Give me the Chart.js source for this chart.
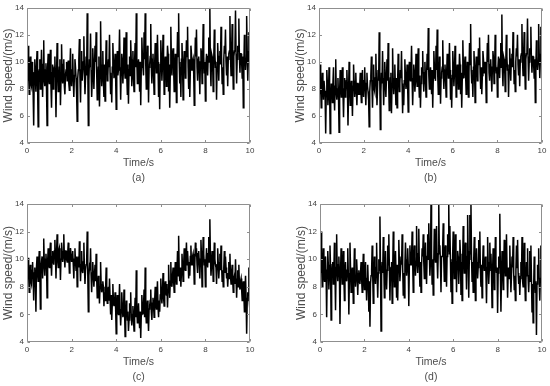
<!DOCTYPE html>
<html>
<head>
<meta charset="utf-8">
<script src="https://cdn.jsdelivr.net/npm/chart.js@4.4.1/dist/chart.umd.min.js"></script>
<style>
html,body{margin:0;padding:0;background:#fff;}
#wrap{position:relative;width:550px;height:386px;overflow:hidden;}
canvas{position:absolute;}
</style>
</head>
<body>
<div id="wrap">
<canvas id="ca" width="275" height="193" style="left:0;top:0;width:275px;height:193px"></canvas>
<canvas id="cb" width="275" height="193" style="left:275px;top:0;width:275px;height:193px"></canvas>
<canvas id="cc" width="275" height="193" style="left:0;top:193px;width:275px;height:193px"></canvas>
<canvas id="cd" width="275" height="193" style="left:275px;top:193px;width:275px;height:193px"></canvas>
</div>
<script>
// ---- data ----
const dt = 0.025; // sampling step, s
const xTicks = [0, 2, 4, 6, 8, 10];
const yTicks = [4, 6, 8, 10, 12, 14];
const panelLabels = ['(a)', '(b)', '(c)', '(d)'];
const xTitle = 'Time/s';
const yTitle = 'Wind speed/(m/s)';

const speedA = [
 9.8, 8.6, 11.2, 9.0, 7.6, 9.8, 10.4, 8.4, 8.2, 10.0, 9.6, 7.8, 5.3, 9.2, 10.2, 8.8, 7.8, 9.6, 10.8, 8.2, 5.2, 9.0, 9.4, 10.2, 8.0, 8.8, 10.9, 9.4, 7.4, 9.8, 11.6, 8.6, 8.2, 9.4, 9.9, 8.0, 5.3, 9.6, 10.6, 8.8,
 8.4, 9.6, 10.9, 8.2, 6.6, 9.2, 9.8, 8.0, 8.8, 9.6, 10.4, 8.6, 5.9, 9.0, 11.4, 9.4, 7.8, 8.8, 9.6, 10.2, 6.8, 8.6, 11.3, 9.2, 8.4, 9.8, 10.2, 8.2, 7.6, 9.0, 9.4, 10.0, 8.6, 9.2, 10.1, 8.4, 7.9, 9.6, 11.0, 8.8,
 8.2, 9.4, 10.6, 8.6, 7.4, 9.0, 10.2, 9.6, 8.8, 7.6, 5.6, 8.8, 9.4, 10.2, 11.7, 8.8, 7.0, 9.4, 10.8, 8.6, 8.6, 10.0, 11.9, 9.2, 7.6, 8.8, 10.4, 9.0, 13.6, 9.8, 5.3, 8.6, 10.2, 9.6, 12.1, 9.4, 7.4, 8.6, 11.0, 9.8,
 8.0, 9.6, 11.2, 10.0, 12.2, 9.2, 7.2, 8.8, 9.6, 10.4, 6.7, 9.0, 13.0, 9.8, 8.2, 9.4, 10.8, 8.6, 7.4, 9.8, 7.1, 9.2, 11.6, 10.2, 8.6, 9.0, 10.2, 9.6, 12.0, 9.2, 7.6, 8.8, 7.0, 9.6, 11.4, 10.0, 8.8, 9.4, 10.6, 8.8,
 6.5, 9.4, 10.8, 9.0, 9.4, 10.2, 12.4, 9.6, 7.2, 9.2, 10.6, 10.0, 8.4, 9.6, 11.8, 9.4, 8.8, 10.4, 12.2, 9.0, 7.6, 9.8, 6.9, 9.4, 10.4, 9.0, 11.6, 10.2, 8.2, 9.6, 10.8, 8.8, 7.8, 10.0, 11.4, 9.6, 13.6, 10.2, 8.4, 9.4,
 10.2, 9.4, 7.8, 10.0, 6.8, 9.6, 11.8, 10.4, 9.6, 9.0, 12.2, 10.2, 13.6, 9.8, 8.0, 9.4, 11.2, 10.6, 7.0, 9.6, 9.8, 10.4, 12.8, 9.6, 8.4, 10.2, 10.6, 9.0, 7.6, 9.8, 11.4, 10.4, 9.2, 9.8, 12.0, 10.0, 7.4, 9.2, 6.5, 9.8,
 11.6, 10.2, 8.6, 9.8, 12.0, 10.4, 7.6, 9.6, 10.4, 10.0, 8.2, 9.4, 11.2, 10.6, 7.8, 9.8, 6.6, 9.2, 12.6, 10.2, 9.0, 10.6, 11.0, 9.6, 7.8, 9.4, 10.6, 10.2, 7.0, 9.8, 12.2, 10.4, 13.6, 10.0, 8.4, 9.6, 7.4, 10.2, 11.4, 9.8,
 7.2, 9.6, 10.8, 10.2, 8.8, 9.8, 11.6, 10.4, 12.6, 9.6, 8.0, 10.2, 7.4, 9.4, 11.2, 10.6, 9.4, 10.0, 10.2, 9.2, 6.8, 9.8, 11.8, 10.4, 12.4, 9.6, 8.6, 10.2, 10.4, 9.4, 7.6, 10.0, 11.0, 10.6, 8.4, 9.8, 12.8, 10.4, 9.2, 10.0,
 7.1, 9.8, 10.6, 10.2, 9.0, 10.4, 11.8, 10.0, 14.0, 9.6, 8.2, 10.6, 10.4, 9.8, 7.8, 10.2, 12.4, 10.6, 9.6, 10.0, 7.2, 9.6, 11.4, 10.2, 8.6, 10.4, 10.8, 9.8, 12.6, 10.4, 8.4, 9.6, 7.6, 10.2, 11.2, 10.6, 12.4, 10.0, 9.0, 10.4,
 8.2, 10.2, 10.6, 10.8, 13.4, 10.4, 9.0, 10.6, 12.8, 10.2, 8.0, 10.4, 10.8, 11.0, 13.8, 10.6, 8.4, 10.2, 11.2, 10.8, 13.2, 10.4, 9.2, 10.6, 10.6, 10.0, 8.8, 10.4, 6.6, 9.8, 12.0, 10.6, 9.4, 10.2, 13.4, 10.8, 8.6, 10.4, 12.2, 10.6, 10.0
];
const speedB = [
 8.6, 7.6, 9.8, 8.2, 6.6, 7.8, 9.2, 8.0, 7.2, 8.6, 8.6, 7.4, 4.7, 7.8, 9.4, 8.4, 6.8, 7.6, 9.6, 8.0, 4.7, 7.2, 8.4, 8.0, 7.0, 8.4, 9.6, 7.6, 6.4, 8.2, 10.2, 7.8, 7.2, 8.0, 8.8, 7.4, 4.8, 7.8, 9.4, 8.2,
 7.4, 8.4, 9.6, 7.8, 5.9, 8.0, 8.8, 7.4, 7.8, 8.6, 9.4, 8.0, 5.3, 7.6, 10.0, 8.4, 6.8, 8.0, 8.6, 7.6, 6.0, 8.2, 9.8, 8.6, 7.4, 8.0, 9.2, 7.8, 6.8, 8.4, 8.4, 7.6, 7.6, 8.2, 9.2, 8.0, 7.0, 8.4, 9.4, 8.0,
 7.4, 8.6, 9.6, 8.0, 6.8, 8.4, 9.2, 8.2, 7.8, 7.2, 5.2, 7.8, 8.6, 9.0, 10.4, 8.2, 6.6, 8.6, 9.8, 8.0, 7.8, 8.8, 10.6, 8.4, 6.8, 8.0, 9.4, 8.6, 12.2, 8.8, 5.0, 7.8, 9.2, 8.4, 10.8, 8.8, 6.8, 8.2, 10.0, 8.6,
 7.4, 8.8, 10.2, 8.6, 11.4, 8.4, 6.4, 8.0, 8.8, 9.2, 6.2, 8.4, 11.0, 8.8, 7.6, 8.6, 9.8, 8.2, 6.8, 8.8, 6.6, 8.4, 10.6, 9.0, 7.8, 8.4, 9.4, 8.8, 10.8, 8.4, 6.2, 8.2, 6.8, 8.6, 10.2, 9.0, 8.0, 8.6, 9.8, 8.2,
 6.3, 8.6, 10.0, 8.8, 8.6, 9.2, 11.2, 8.8, 6.8, 8.4, 9.8, 9.2, 7.8, 8.6, 10.6, 9.0, 8.2, 9.4, 11.0, 8.6, 7.4, 9.0, 6.6, 8.4, 9.6, 9.2, 10.8, 8.8, 7.8, 9.2, 10.0, 8.6, 7.4, 9.0, 10.6, 9.4, 12.5, 9.0, 8.0, 8.8,
 9.6, 8.8, 7.6, 9.4, 6.6, 8.8, 10.8, 9.6, 9.0, 8.6, 11.2, 9.4, 12.4, 9.0, 7.6, 8.8, 10.4, 9.6, 6.9, 8.8, 9.2, 9.6, 11.6, 9.2, 8.0, 9.4, 9.8, 8.8, 7.4, 9.2, 10.6, 9.6, 8.8, 9.2, 11.4, 9.4, 7.2, 8.8, 6.6, 9.0,
 10.8, 9.6, 8.2, 9.2, 11.2, 9.8, 7.4, 9.0, 9.8, 9.4, 8.0, 8.8, 10.6, 9.8, 7.6, 9.2, 6.6, 8.8, 11.6, 9.6, 8.8, 9.8, 10.4, 9.0, 7.6, 8.8, 10.0, 9.6, 7.4, 9.2, 11.4, 9.8, 12.8, 9.4, 8.4, 9.0, 7.4, 9.6, 10.8, 9.4,
 7.0, 9.2, 10.4, 9.8, 8.6, 9.4, 11.0, 9.8, 11.8, 9.2, 8.0, 9.6, 7.6, 9.0, 10.8, 10.2, 9.2, 9.6, 10.0, 9.0, 7.0, 9.4, 11.4, 10.0, 12.0, 9.2, 8.6, 9.8, 10.2, 9.0, 7.8, 9.6, 10.8, 10.2, 8.4, 9.4, 12.0, 9.8, 9.2, 9.6,
 7.4, 9.6, 10.4, 10.0, 8.8, 10.2, 11.4, 9.6, 13.5, 9.4, 8.2, 10.4, 10.2, 9.6, 7.8, 9.8, 12.0, 10.4, 9.4, 9.8, 7.4, 9.4, 11.0, 10.0, 8.6, 10.2, 10.6, 9.6, 12.2, 10.2, 8.4, 9.4, 7.8, 10.0, 11.0, 10.4, 12.0, 9.8, 9.0, 10.2,
 8.2, 10.0, 10.4, 10.6, 12.8, 10.2, 9.0, 10.4, 12.2, 10.0, 8.0, 10.2, 10.6, 10.8, 13.2, 10.4, 8.6, 10.0, 11.0, 10.6, 12.6, 10.2, 9.2, 10.4, 10.4, 9.8, 8.8, 10.2, 7.0, 9.6, 11.6, 10.4, 9.4, 10.0, 12.8, 10.6, 8.8, 10.2, 12.6, 10.4, 10.2
];
const speedC = [
 9.2, 8.6, 10.1, 8.8, 7.6, 9.0, 9.6, 8.4, 8.2, 9.2, 9.8, 8.8, 7.0, 9.0, 9.4, 8.6, 6.2, 9.4, 10.2, 9.0, 8.4, 9.6, 10.6, 9.2, 6.4, 9.4, 9.8, 10.2, 8.6, 9.6, 11.5, 9.8, 8.8, 10.0, 10.4, 9.6, 7.2, 9.8, 10.8, 9.6,
 9.4, 10.4, 11.2, 10.0, 8.8, 10.2, 10.6, 9.8, 9.6, 10.6, 11.4, 10.2, 8.6, 10.4, 11.8, 10.0, 9.4, 10.6, 10.8, 10.2, 8.5, 10.0, 11.2, 10.6, 9.8, 10.4, 11.8, 10.2, 9.4, 10.6, 10.6, 10.0, 9.8, 10.4, 11.2, 10.2, 9.0, 10.0, 10.8, 10.4,
 9.8, 10.2, 10.6, 9.6, 8.6, 10.0, 10.8, 9.8, 9.2, 10.2, 8.0, 9.6, 10.2, 9.4, 11.3, 9.8, 8.4, 9.6, 10.6, 9.2, 9.0, 9.8, 11.2, 9.4, 8.2, 9.2, 9.6, 9.8, 12.0, 9.0, 6.2, 8.8, 9.4, 9.2, 10.8, 8.8, 7.6, 9.0, 9.8, 8.8,
 8.0, 8.8, 9.6, 8.4, 10.4, 8.6, 7.2, 8.2, 8.8, 8.4, 6.8, 8.0, 9.8, 8.2, 7.6, 7.8, 8.4, 8.0, 6.6, 7.6, 7.0, 7.8, 9.4, 7.4, 6.8, 7.6, 8.0, 7.0, 8.6, 7.2, 6.0, 7.4, 5.6, 6.8, 8.2, 7.0, 6.6, 6.8, 7.6, 6.4,
 4.6, 6.6, 7.4, 6.2, 6.0, 6.8, 8.2, 6.4, 5.2, 6.2, 7.6, 6.6, 5.8, 6.0, 7.8, 6.2, 4.4, 5.8, 7.0, 6.4, 5.6, 6.2, 4.8, 5.6, 6.8, 6.2, 7.6, 5.8, 5.2, 6.0, 6.6, 5.6, 4.8, 6.2, 7.2, 5.8, 9.2, 6.4, 5.4, 6.0,
 6.8, 5.8, 5.0, 6.2, 4.3, 6.0, 7.4, 6.4, 6.0, 6.6, 7.8, 5.8, 9.4, 6.2, 5.4, 6.4, 7.0, 6.0, 4.8, 6.4, 6.6, 7.0, 7.8, 6.2, 5.6, 6.8, 7.2, 6.6, 5.8, 7.0, 8.0, 6.8, 6.4, 7.2, 8.4, 6.6, 5.8, 7.0, 6.2, 7.4,
 8.6, 7.4, 6.8, 7.6, 9.0, 7.2, 6.6, 7.8, 8.4, 7.6, 7.4, 8.2, 6.5, 7.8, 9.6, 8.0, 7.2, 8.4, 9.8, 8.2, 8.0, 8.8, 9.4, 8.4, 7.6, 8.6, 9.8, 8.8, 8.2, 9.0, 10.6, 8.8, 11.7, 9.2, 8.4, 9.4, 8.0, 9.0, 10.4, 9.4,
 8.4, 9.6, 10.8, 9.4, 9.2, 10.0, 11.2, 9.6, 10.6, 9.8, 8.6, 9.4, 8.8, 10.2, 11.0, 9.6, 9.6, 10.2, 10.4, 9.8, 8.2, 9.6, 11.2, 10.2, 10.8, 9.6, 9.0, 10.4, 10.6, 9.8, 8.6, 10.0, 11.4, 10.2, 8.0, 9.8, 11.6, 10.4, 9.6, 10.0,
 8.0, 9.8, 10.8, 10.0, 9.4, 10.4, 11.6, 9.8, 12.9, 10.2, 8.8, 9.6, 10.6, 9.8, 8.4, 9.6, 11.2, 10.0, 9.6, 9.4, 8.2, 9.6, 10.8, 9.8, 8.6, 9.4, 10.4, 9.2, 11.0, 9.6, 8.4, 9.2, 8.0, 9.4, 10.6, 9.0, 10.2, 9.4, 8.6, 9.0,
 8.0, 8.8, 9.8, 8.6, 10.4, 8.8, 8.2, 9.0, 9.6, 8.4, 7.6, 8.6, 8.8, 8.2, 10.0, 8.6, 7.2, 8.4, 9.2, 8.0, 9.6, 8.2, 7.8, 8.4, 8.6, 7.8, 7.0, 8.0, 8.4, 7.4, 6.2, 7.8, 8.8, 7.2, 4.6, 7.0, 7.6, 7.4, 9.4, 6.8, 6.2
];
const speedD = [
 10.2, 9.0, 12.0, 9.6, 8.0, 9.4, 10.8, 8.8, 8.4, 9.8, 10.2, 9.0, 5.8, 9.2, 10.6, 9.6, 7.8, 9.0, 11.0, 9.4, 5.6, 8.8, 9.6, 9.8, 8.2, 9.2, 11.2, 9.0, 6.3, 9.4, 11.8, 9.2, 8.4, 9.6, 10.2, 8.8, 5.3, 9.0, 10.8, 9.4,
 8.2, 9.4, 10.6, 8.8, 7.0, 9.0, 9.8, 8.6, 8.4, 9.2, 10.8, 9.0, 6.0, 8.8, 11.2, 9.4, 7.6, 8.6, 9.4, 9.0, 6.8, 8.8, 10.8, 9.2, 8.0, 8.6, 10.0, 9.0, 7.4, 8.8, 9.2, 8.4, 8.2, 9.0, 9.8, 8.6, 7.6, 8.8, 10.4, 8.8,
 7.8, 8.8, 9.8, 8.4, 7.0, 8.6, 9.6, 8.2, 6.2, 8.4, 5.1, 8.2, 8.8, 9.2, 11.0, 8.8, 6.8, 8.6, 10.2, 9.0, 8.2, 9.4, 11.2, 8.8, 7.2, 9.0, 10.0, 9.2, 13.1, 9.4, 4.8, 8.8, 9.8, 9.0, 11.6, 9.4, 7.2, 9.0, 10.6, 9.2,
 7.8, 9.2, 11.0, 9.6, 11.8, 9.4, 7.0, 9.0, 9.4, 9.8, 6.8, 9.2, 12.0, 9.6, 8.0, 9.4, 10.6, 9.0, 7.2, 9.6, 7.0, 9.4, 11.4, 9.8, 8.4, 9.2, 10.2, 9.6, 11.8, 9.4, 7.4, 9.0, 7.2, 9.6, 11.2, 10.0, 8.8, 9.4, 10.8, 9.6,
 6.6, 9.6, 11.0, 9.8, 9.6, 10.2, 12.0, 9.8, 7.6, 9.6, 11.0, 10.2, 8.8, 9.8, 12.4, 10.0, 9.0, 10.4, 12.2, 9.6, 8.0, 9.8, 7.6, 9.4, 10.8, 10.2, 11.8, 9.8, 8.6, 10.0, 11.2, 9.6, 8.2, 10.2, 11.8, 10.0, 12.6, 10.4, 8.8, 9.8,
 14.0, 10.4, 8.2, 10.0, 7.4, 9.8, 12.2, 10.6, 9.8, 10.2, 12.4, 10.0, 8.6, 10.4, 14.0, 10.6, 11.0, 9.8, 7.6, 10.2, 10.2, 10.8, 12.6, 10.0, 8.4, 10.4, 11.0, 9.8, 8.0, 10.2, 11.8, 10.6, 14.0, 10.4, 12.4, 10.0, 7.6, 9.8, 6.8, 10.2,
 12.0, 10.2, 8.6, 10.0, 11.8, 10.4, 7.6, 9.8, 10.6, 10.2, 8.2, 9.6, 11.4, 10.4, 7.4, 9.8, 7.0, 9.6, 12.4, 10.2, 9.0, 10.6, 11.2, 10.0, 7.8, 10.2, 13.2, 10.6, 7.2, 10.0, 13.2, 10.4, 14.0, 10.2, 8.4, 9.8, 7.6, 10.0, 11.6, 9.8,
 7.0, 9.4, 10.8, 9.8, 8.6, 9.4, 11.4, 9.8, 12.0, 9.2, 8.0, 9.6, 7.2, 9.4, 11.0, 9.8, 9.2, 9.6, 10.2, 9.0, 6.8, 9.4, 11.6, 9.8, 8.2, 9.2, 11.2, 9.6, 10.4, 9.0, 6.5, 9.2, 10.8, 9.6, 7.8, 9.2, 11.6, 9.6, 9.0, 9.4,
 6.1, 9.0, 10.2, 9.4, 13.3, 9.2, 6.2, 8.8, 10.6, 9.4, 7.8, 9.0, 11.4, 9.6, 8.8, 9.2, 11.8, 9.4, 7.2, 9.0, 9.4, 8.6, 11.0, 9.2, 7.6, 8.8, 10.2, 9.4, 11.6, 9.0, 7.8, 8.8, 7.0, 9.2, 11.0, 9.4, 11.4, 9.0, 8.2, 8.8,
 7.4, 8.6, 9.8, 8.8, 11.6, 8.4, 8.0, 9.0, 11.2, 8.6, 7.0, 8.4, 9.8, 8.8, 10.8, 8.6, 7.6, 8.8, 10.6, 8.4, 11.0, 8.6, 6.2, 8.2, 5.4, 8.0, 10.2, 8.6, 7.6, 8.4, 4.5, 8.2, 9.6, 8.6, 10.8, 8.2, 7.0, 8.6, 11.0, 8.8, 8.4
];

// ---- drawing ----
const AXIS_COLOR = '#8f8f8f';
const TEXT_COLOR = '#404040';
const TITLE_COLOR = '#4d4d4d';
const FONT = '"Liberation Sans", Arial, sans-serif';

const framePlugin = {
  id: 'frame',
  afterDatasetsDraw(chart, args, opts) {
    const {ctx, chartArea: a, scales: {x, y}} = chart;
    ctx.save();
    ctx.strokeStyle = AXIS_COLOR;
    ctx.lineWidth = 1;
    const L = Math.round(a.left) + 0.5, R = Math.round(a.right) - 0.5;
    const T = Math.round(a.top) + 0.5, B = Math.round(a.bottom) - 0.5;
    ctx.beginPath();
    ctx.rect(L, T, R - L, B - T);
    const tl = 2.5;
    xTicks.forEach(v => {
      const px = Math.round(x.getPixelForValue(v)) + 0.5;
      ctx.moveTo(px, B); ctx.lineTo(px, B - tl);
      ctx.moveTo(px, T); ctx.lineTo(px, T + tl);
    });
    yTicks.forEach(v => {
      const py = Math.round(y.getPixelForValue(v)) + 0.5;
      ctx.moveTo(L, py); ctx.lineTo(L + tl, py);
      ctx.moveTo(R, py); ctx.lineTo(R - tl, py);
    });
    ctx.stroke();
    ctx.fillStyle = TITLE_COLOR;
    ctx.textAlign = 'center';
    ctx.textBaseline = 'middle';
    ctx.font = '10.5px ' + FONT;
    const cx = (a.left + a.right) / 2;
    ctx.fillText(xTitle, cx, a.bottom + 20);
    ctx.fillText(opts.label, cx, a.bottom + 35);
    ctx.save();
    ctx.translate(a.left - 18.5, (a.top + a.bottom) / 2);
    ctx.rotate(-Math.PI / 2);
    ctx.font = '12px ' + FONT;
    ctx.fillText(yTitle, 0, 0);
    ctx.restore();
    ctx.restore();
  }
};

function makeChart(id, values, label, pad) {
  const data = values.map((v, i) => ({x: i * dt, y: v}));
  return new Chart(document.getElementById(id), {
    type: 'line',
    data: {datasets: [{data, borderColor: '#000', borderWidth: 1.5, pointRadius: 0, tension: 0, fill: false, borderJoinStyle: 'miter'}]},
    plugins: [framePlugin],
    options: {
      responsive: false,
      animation: false,
      events: [],
      layout: {padding: {left: pad.left, right: pad.right, top: pad.top, bottom: 0}},
      plugins: {legend: {display: false}, tooltip: {enabled: false}, frame: {label}},
      scales: {
        x: {
          type: 'linear', min: 0, max: 10,
          afterBuildTicks: s => { s.ticks = xTicks.map(v => ({value: v})); },
          afterFit: s => { s.height = pad.xh; },
          grid: {display: false, drawTicks: false},
          border: {display: false},
          ticks: {padding: 3, color: TEXT_COLOR, font: {family: FONT, size: 8}, maxRotation: 0}
        },
        y: {
          min: 4, max: 14,
          afterBuildTicks: s => { s.ticks = yTicks.map(v => ({value: v})); },
          afterFit: s => { s.width = pad.yw; },
          grid: {display: false, drawTicks: false},
          border: {display: false},
          ticks: {padding: 3, color: TEXT_COLOR, font: {family: FONT, size: 8}}
        }
      }
    }
  });
}

makeChart('ca', speedA, panelLabels[0], {left: 0, right: 25, top: 5, xh: 50, yw: 27});
makeChart('cb', speedB, panelLabels[1], {left: 17, right: 8, top: 5, xh: 50, yw: 27});
makeChart('cc', speedC, panelLabels[2], {left: 0, right: 25, top: 11, xh: 44, yw: 27});
makeChart('cd', speedD, panelLabels[3], {left: 18, right: 8, top: 11, xh: 44, yw: 27});
</script>
</body>
</html>
